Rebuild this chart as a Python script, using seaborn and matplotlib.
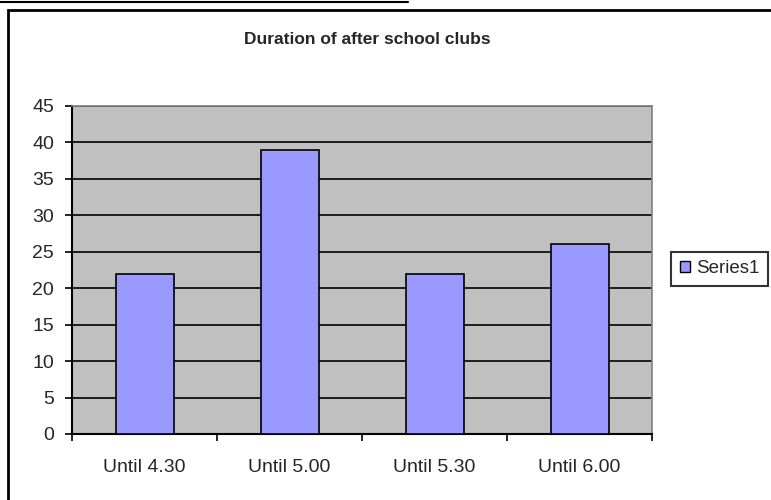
import matplotlib.pyplot as plt
import matplotlib.patches as mpatches
import matplotlib.lines as mlines
import pandas as pd
import seaborn as sns

# Données
categories = ["Until 4.30", "Until 5.00", "Until 5.30", "Until 6.00"]
values = [22, 39, 22, 26]
series_name = "Series1"

df = pd.DataFrame({"cat": categories, "val": values, "serie": [series_name] * len(values)})

sns.set_theme(style="white")
plt.rcParams['font.family'] = ['Liberation Sans', 'DejaVu Sans']

fig = plt.figure(figsize=(7.71, 5), dpi=100)
ax = fig.add_axes([72 / 771, 1 - 434 / 500, 580 / 771, 328 / 500])
ax.set_facecolor('#C0C0C0')

sns.barplot(data=df, x="cat", y="val", hue="serie", palette=['#9999FF'], saturation=1,
            width=0.4, edgecolor='black', linewidth=1.2, dodge=False, ax=ax, zorder=3)

ax.set_ylim(0, 45)
ax.set_yticks(range(0, 46, 5))
ax.set_xlim(-0.5, 3.5)
ax.yaxis.grid(True, color='black', linewidth=1.2, zorder=0)
ax.set_axisbelow(True)
ax.set_xlabel("")
ax.set_ylabel("")

for side in ['top', 'right']:
    ax.spines[side].set_color('#808080')
    ax.spines[side].set_linewidth(1.2)
for side in ['left', 'bottom']:
    ax.spines[side].set_color('black')
    ax.spines[side].set_linewidth(1.5)

ax.tick_params(axis='y', which='both', left=True, length=5, width=1.2, color='black',
               labelsize=14, pad=8)
ax.tick_params(axis='x', which='major', bottom=False, labelsize=14, pad=12)
# petits ticks entre les catégories
ax.set_xticks([-0.5, 0.5, 1.5, 2.5, 3.5], minor=True)
ax.tick_params(axis='x', which='minor', bottom=True, length=5, width=1.2, color='black')

fig.text(367 / 771, 1 - 40 / 500, "Duration of after school clubs",
         ha='center', va='center', fontsize=12.5, fontweight='bold')

leg = ax.legend(loc='upper left', bbox_to_anchor=(1.033, 0.555), fontsize=13.5,
                frameon=True, fancybox=False, edgecolor='black', handlelength=0.55,
                handleheight=0.55, handletextpad=0.35, borderpad=0.45, borderaxespad=0)
leg.get_frame().set_linewidth(1.5)
for h in leg.legend_handles:
    h.set_edgecolor('black')
    h.set_linewidth(1)

# Cadres autour du graphique
fig.add_artist(mlines.Line2D([0, 408 / 771], [1 - 1.5 / 500] * 2, color='black', lw=1.5,
                             transform=fig.transFigure))
fig.add_artist(mpatches.Rectangle((8 / 771, -0.1), 1.2, 1 - 10 / 500 + 0.1, fill=False,
                                  edgecolor='black', lw=2, transform=fig.transFigure))

fig.savefig("out.png", dpi=100)
